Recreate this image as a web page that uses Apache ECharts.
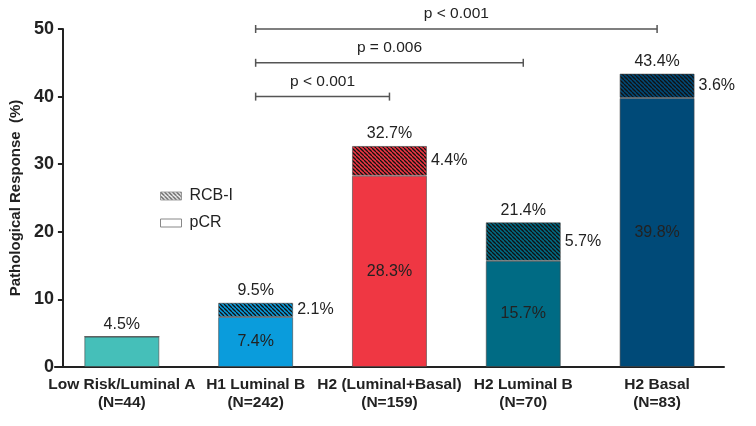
<!DOCTYPE html>
<html>
<head>
<meta charset="utf-8">
<script src="https://cdn.jsdelivr.net/npm/echarts@6/dist/echarts.min.js"></script>
<style>
  html, body { margin: 0; padding: 0; background: #fff; }
  #chart { width: 756px; height: 426px; }
</style>
</head>
<body>
<div id="chart"></div>
<script>
// groups on the x axis
const categories = [
  'Low Risk/Luminal A\n(N=44)',
  'H1 Luminal B\n(N=242)',
  'H2 (Luminal+Basal)\n(N=159)',
  'H2 Luminal B\n(N=70)',
  'H2 Basal\n(N=83)'
];
const pcrValues = [4.5, 7.4, 28.3, 15.7, 39.8];
const rcbValues = [0, 2.1, 4.4, 5.7, 3.6];
const totalValues = [4.5, 9.5, 32.7, 21.4, 43.4];
const barColors = ['#45bfb9', '#0a9cdc', '#ef3743', '#006b84', '#004a78'];

// significance brackets (category index from/to, y level)
const bracketFrom = [1, 1, 1];
const bracketTo = [2, 3, 4];
const bracketLevel = [40, 45, 50];
const bracketText = ['p < 0.001', 'p = 0.006', 'p < 0.001'];

const FONT = '"Liberation Sans", Arial, sans-serif';

// diagonal hatch tile
function hatch(base, line) {
  const c = document.createElement('canvas');
  c.width = 4; c.height = 4;
  const ctx = c.getContext('2d');
  ctx.fillStyle = base;
  ctx.fillRect(0, 0, 4, 4);
  ctx.strokeStyle = line;
  ctx.lineWidth = 1.3;
  for (let k = -4; k <= 4; k += 4) {
    ctx.beginPath();
    ctx.moveTo(k, 0);
    ctx.lineTo(k + 4, 4);
    ctx.stroke();
  }
  return { image: c, repeat: 'repeat' };
}

const chart = echarts.init(document.getElementById('chart'), null, { renderer: 'canvas' });

const option = {
  animation: false,
  textStyle: { fontFamily: FONT },
  grid: { left: 54, right: 32, top: 29, bottom: 59 },
  legend: {
    orient: 'vertical',
    left: 155,
    top: 183,
    itemWidth: 21,
    itemHeight: 8,
    itemGap: 11,
    icon: 'rect',
    textStyle: { fontSize: 16, color: '#222', fontFamily: FONT, padding: [0, 0, 0, 3] },
    data: [
      { name: 'RCB-I', itemStyle: { color: hatch('#ffffff', '#555555'), borderColor: '#888', borderWidth: 0.8 } },
      { name: 'pCR', itemStyle: { color: '#ffffff', borderColor: '#888', borderWidth: 1 } }
    ]
  },
  xAxis: {
    type: 'category',
    data: categories,
    axisLine: { lineStyle: { color: '#222', width: 2 } },
    axisTick: { show: false },
    axisLabel: {
      interval: 0,
      margin: 9,
      fontSize: 15.5,
      fontWeight: 'bold',
      lineHeight: 18,
      color: '#222',
      fontFamily: FONT
    }
  },
  yAxis: {
    type: 'value',
    min: 0,
    max: 50,
    interval: 10,
    offset: -8,
    name: 'Pathological Response  (%)',
    nameLocation: 'middle',
    nameGap: 35,
    nameTextStyle: { fontSize: 15, fontWeight: 'bold', color: '#222', fontFamily: FONT },
    axisLine: { show: true, lineStyle: { color: '#222', width: 2 } },
    axisTick: { show: true, length: 5, lineStyle: { color: '#222', width: 2 } },
    axisLabel: { fontSize: 18, fontWeight: 'bold', color: '#222', margin: 9, fontFamily: FONT },
    splitLine: { show: false }
  },
  series: [
    {
      name: 'pCR',
      type: 'bar',
      stack: 'resp',
      barWidth: 75,
      itemStyle: { color: '#ffffff', borderColor: 'rgba(70,70,70,0.6)', borderWidth: 1 },
      label: {
        show: true,
        position: 'inside',
        fontSize: 16,
        color: '#222',
        fontFamily: FONT,
        formatter: p => rcbValues[p.dataIndex] > 0 ? p.value + '%' : ''
      },
      data: pcrValues.map((v, i) => ({ value: v, itemStyle: { color: barColors[i] } }))
    },
    {
      name: 'RCB-I',
      type: 'bar',
      stack: 'resp',
      barWidth: 75,
      itemStyle: { color: hatch('#ffffff', '#555555'), borderColor: 'rgba(70,70,70,0.6)', borderWidth: 1 },
      label: {
        show: true,
        position: 'right',
        distance: 4,
        fontSize: 16,
        color: '#222',
        fontFamily: FONT,
        formatter: p => p.value > 0 ? p.value + '%' : ''
      },
      data: rcbValues.map((v, i) => ({ value: v, itemStyle: { color: hatch(barColors[i], '#111111') } }))
    },
    {
      name: 'total',
      type: 'bar',
      stack: 'resp',
      barWidth: 75,
      silent: true,
      itemStyle: { color: 'rgba(0,0,0,0)' },
      label: {
        show: true,
        position: 'top',
        distance: 4,
        fontSize: 16,
        color: '#222',
        fontFamily: FONT,
        formatter: p => totalValues[p.dataIndex] + '%'
      },
      data: totalValues.map(() => 0)
    },
    {
      name: 'brackets',
      type: 'custom',
      clip: false,
      silent: true,
      z: 10,
      encode: { x: [0, 1], y: 2 },
      data: bracketFrom.map((f, i) => [f, bracketTo[i], bracketLevel[i]]),
      renderItem: function (params, api) {
        const a = api.coord([api.value(0), api.value(2)]);
        const b = api.coord([api.value(1), api.value(2)]);
        const st = { stroke: '#555', lineWidth: 1.5 };
        return {
          type: 'group',
          children: [
            { type: 'line', shape: { x1: a[0], y1: a[1], x2: b[0], y2: b[1] }, style: st },
            { type: 'line', shape: { x1: a[0], y1: a[1] - 4, x2: a[0], y2: a[1] + 4 }, style: st },
            { type: 'line', shape: { x1: b[0], y1: b[1] - 4, x2: b[0], y2: b[1] + 4 }, style: st },
            {
              type: 'text',
              x: (a[0] + b[0]) / 2,
              y: a[1] - 7,
              style: {
                text: bracketText[params.dataIndex],
                textAlign: 'center',
                textVerticalAlign: 'bottom',
                fontSize: 15.5,
                fontFamily: FONT,
                fill: '#222'
              }
            }
          ]
        };
      }
    }
  ]
};

chart.setOption(option);
</script>
</body>
</html>
